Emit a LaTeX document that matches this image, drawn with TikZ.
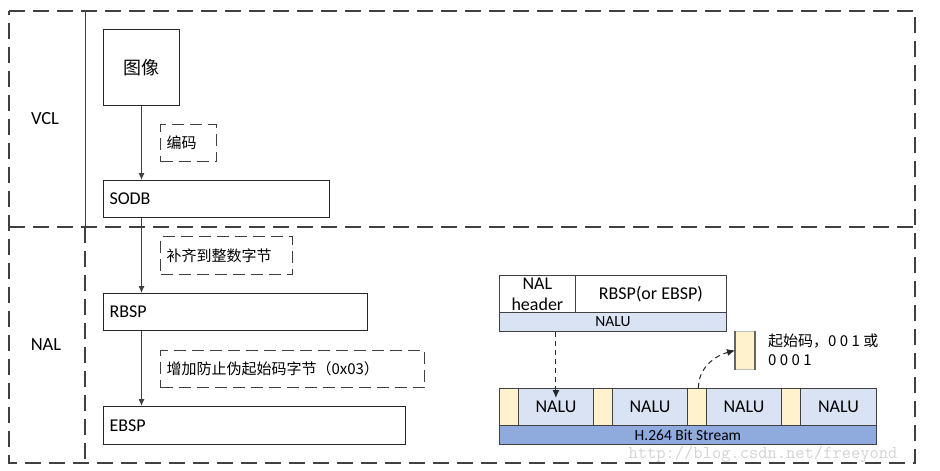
\documentclass[tikz,border=0pt]{standalone}
\usepackage{fontspec}
\setmainfont{Carlito}
\newfontfamily\cjk{Noto Sans CJK SC}
\usetikzlibrary{arrows.meta}
\definecolor{frame}{HTML}{404040}
\definecolor{nalufill}{HTML}{DAE3F3}
\definecolor{barfill}{HTML}{8FAADC}
\definecolor{scfill}{HTML}{FFF2CC}
\definecolor{wm}{HTML}{D4D4D4}
\begin{document}
\begin{tikzpicture}[x=1pt,y=-1pt,
  region/.style={draw=frame, line width=1.1pt, dash pattern=on 16pt off 8pt},
  stepbox/.style={draw=black!85, line width=1pt, inner sep=0pt, anchor=north west,
    font=\fontsize{18}{20}\selectfont, align=left},
  note/.style={draw=frame, line width=1pt, dash pattern=on 12pt off 6pt, inner sep=0pt,
    anchor=north west, font=\cjk\fontsize{15}{18}\selectfont, align=left},
  flow/.style={draw=frame, line width=1pt, -{Latex[length=7pt,width=6pt]}},
  dflow/.style={draw=black!85, line width=1pt, dash pattern=on 5pt off 4pt, -{Latex[length=8pt,width=7pt]}},
  cell/.style={draw=frame, line width=0.8pt, inner sep=0pt, anchor=north west,
    font=\fontsize{18}{21}\selectfont, align=center},
  layer/.style={font=\fontsize{18.5}{20}\selectfont}
]
\useasboundingbox (0,0) rectangle (940,471);
\fill[white] (0,0) rectangle (940,471);

% regions
\draw[region] (9,11) -- (915,11) -- (915,463) -- (9,463) -- cycle;
\draw[region] (9,227) -- (915,227);
\draw[frame, line width=1pt] (85,11) -- (85,227);
\draw[region] (85,227) -- (85,463);
\node[layer] (vcl) at (45,119) {VCL};
\node[layer] (nal) at (46,345) {NAL};

% left flow
\node[stepbox, align=center, minimum width=76pt, minimum height=76pt, font=\cjk\fontsize{18}{20}\selectfont] (img) at (103,29) {图像};
\node[stepbox, minimum width=226pt, minimum height=37pt, text width=214pt] (sodb) at (103,180) {SODB};
\node[stepbox, minimum width=264pt, minimum height=37pt, text width=252pt] (rbsp) at (103,293) {RBSP};
\node[stepbox, minimum width=302pt, minimum height=38pt, text width=290pt] (ebsp) at (103,406) {EBSP};

\node[note, minimum width=56pt, minimum height=37pt, text width=44pt] (n-enc) at (160,124) {编码};
\node[note, minimum width=132pt, minimum height=38pt, text width=120pt] (n-pad) at (160,236) {补齐到整数字节};
\node[note, minimum width=264pt, minimum height=37pt, text width=252pt] (n-emu) at (160,350) {增加防止伪起始码字节（0x03）};

\draw[flow] (img.south) -- (img.south |- sodb.north);
\draw[flow] (img.south |- sodb.south) -- (img.south |- rbsp.north);
\draw[flow] (img.south |- rbsp.south) -- (img.south |- ebsp.north);

% NALU structure
\node[cell, fill=white, minimum width=76pt, minimum height=37pt] (hdr) at (499,275) {NAL\\header};
\node[cell, fill=white, minimum width=151pt, minimum height=37pt] (pay) at (575,275) {RBSP(or EBSP)};
\node[cell, fill=nalufill, minimum width=227pt, minimum height=19pt, font=\fontsize{15.5}{17}\selectfont] (nalubar) at (499,312) {NALU};

% bit stream
\node[cell, fill=scfill, minimum width=19pt, minimum height=37pt] (sc1) at (499,388) {};
\node[cell, fill=nalufill, minimum width=75pt, minimum height=37pt] (u1) at (518,388) {NALU};
\node[cell, fill=scfill, minimum width=19pt, minimum height=37pt] (sc2) at (593,388) {};
\node[cell, fill=nalufill, minimum width=75pt, minimum height=37pt] (u2) at (612,388) {NALU};
\node[cell, fill=scfill, minimum width=19pt, minimum height=37pt] (sc3) at (687,388) {};
\node[cell, fill=nalufill, minimum width=75pt, minimum height=37pt] (u3) at (706,388) {NALU};
\node[cell, fill=scfill, minimum width=19pt, minimum height=37pt] (sc4) at (781,388) {};
\node[cell, fill=nalufill, minimum width=76pt, minimum height=37pt] (u4) at (800,388) {NALU};
\node[cell, fill=barfill, minimum width=377pt, minimum height=19pt, font=\fontsize{15.5}{17}\selectfont] (bar) at (499,425) {H.264 Bit Stream};

\node[cell, draw=black!25, fill=scfill, minimum width=19pt, minimum height=38pt] (lone) at (735,331) {};
\draw[frame!80, line width=1.5pt] (lone.north west) -- (lone.south west);
\draw[frame!80, line width=1.5pt] (lone.north east) -- (lone.south east);
\node[anchor=west, align=left, font=\cjk\fontsize{15}{19}\selectfont, inner sep=0pt] (sclabel) at (768,350) {起始码，0 0 1 或\\0 0 0 1};

\draw[dflow] (nalubar.south -| u1.north) -- ([yshift=-10pt]u1.north);
\draw[dflow] ([xshift=1.5pt]sc3.north) to[out=90,in=195] (lone.west);

% watermark
\node[text=wm, font=\ttfamily\fontsize{18}{20}\selectfont, inner sep=0pt] (wmark) at (763,454) {http://blog.csdn.net/freeyond};
\end{tikzpicture}
\end{document}
